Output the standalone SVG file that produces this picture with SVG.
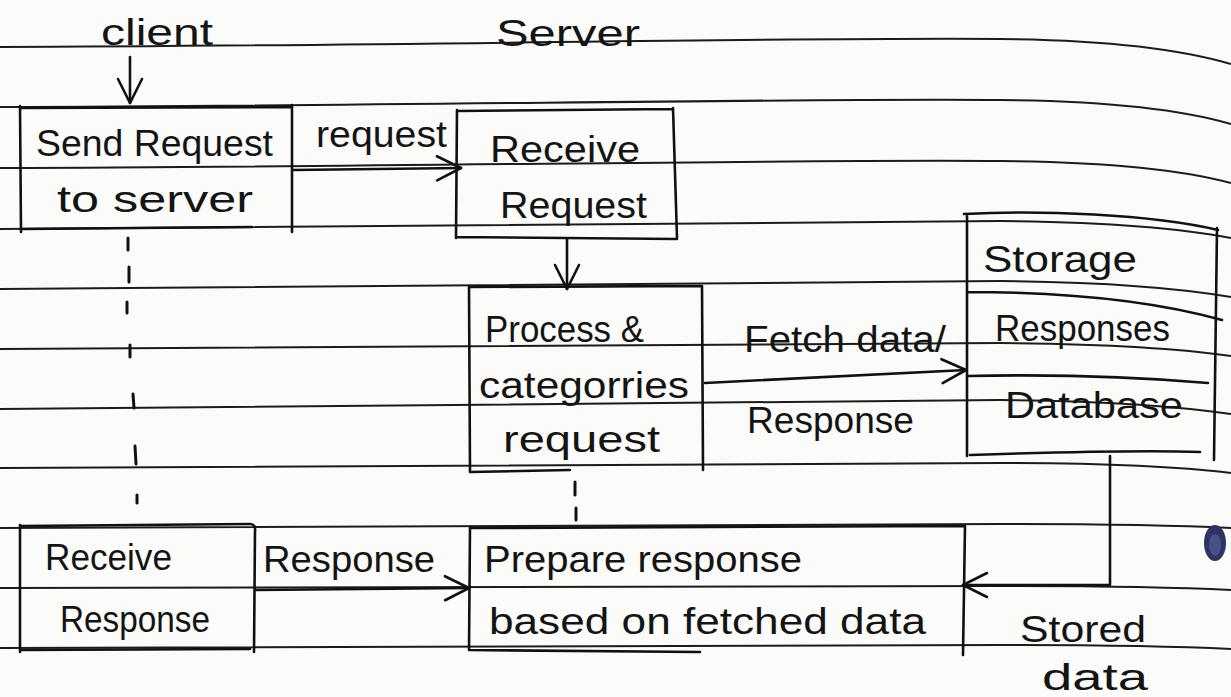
<svg xmlns="http://www.w3.org/2000/svg" width="1231" height="697" viewBox="0 0 1231 697">
  <style>
    .rule { fill: none; stroke: #1c1c1c; stroke-width: 2; }
    .ink { fill: none; stroke: #111; stroke-width: 2.6; stroke-linecap: round; stroke-linejoin: round; }
    .lbl { font-family: "Liberation Sans", "DejaVu Sans", sans-serif; font-size: 36px; fill: #141414; }
    .dash { stroke: #111; stroke-width: 3; stroke-linecap: round; }
  </style>
  <defs>
    <marker id="vhead" viewBox="-28 -16 32 32" refX="0" refY="0" markerWidth="32" markerHeight="32" markerUnits="userSpaceOnUse" orient="auto">
      <path d="M-24,-12 L0,0 L-24,12" fill="none" stroke="#111" stroke-width="2.6" stroke-linecap="round" stroke-linejoin="round"/>
    </marker>
  </defs>

  <!-- paper -->
  <rect x="0" y="0" width="1231" height="697" fill="#fbfbfa"/>

  <!-- ruled notebook lines -->
  <g id="ruling">
    <path class="rule" d="M0,47 C400,46 800,37 1000,39 C1120,40 1190,52 1231,64"/>
    <path class="rule" d="M0,107 C400,106 800,98 1000,100 C1120,101 1190,112 1231,124"/>
    <path class="rule" d="M0,168 C400,167 800,159 1000,161 C1120,162 1190,172 1231,183"/>
    <path class="rule" d="M0,229 C400,228 800,220 1000,221 C1120,222 1190,230 1231,238"/>
    <path class="rule" d="M0,289 C400,288 800,281 1000,281 C1120,282 1190,290 1231,297"/>
    <path class="rule" d="M0,349 C400,348 800,342 1000,343 C1120,344 1190,350 1231,356"/>
    <path class="rule" d="M0,409 C400,408 800,401 1000,400 C1120,401 1190,408 1231,414"/>
    <path class="rule" d="M0,468 C400,468 800,463 1000,463 C1120,463 1190,468 1231,473"/>
    <path class="rule" d="M0,528 C400,528 800,524 1000,524 C1120,524 1190,526 1231,528"/>
    <path class="rule" d="M0,588 C400,588 800,586 1000,586 C1120,586 1190,588 1231,590"/>
    <path class="rule" d="M0,648 C400,648 800,645 1000,645 C1120,645 1190,647 1231,649"/>
  </g>

  <!-- column headings -->
  <g id="heading-client">
    <text class="lbl" x="101" y="45" font-size="32" textLength="112" lengthAdjust="spacingAndGlyphs">client</text>
  </g>
  <g id="heading-server">
    <text class="lbl" x="496" y="46" font-size="32" textLength="144" lengthAdjust="spacingAndGlyphs">Server</text>
  </g>

  <!-- client: send request -->
  <g id="send-request">
    <path class="ink" d="M20,108 L292,107 M20,106 L21,232 M292,105 L292,232 M22,229 L252,227"/>
    <text class="lbl" x="36" y="156" textLength="237" lengthAdjust="spacingAndGlyphs">Send Request</text>
    <text class="lbl" x="57" y="212" textLength="196" lengthAdjust="spacingAndGlyphs">to server</text>
  </g>

  <!-- server: receive request -->
  <g id="receive-request">
    <path class="ink" d="M457,111 L673,109 M457,110 L456,238 M673,108 L677,238 M456,237 L677,239"/>
    <text class="lbl" x="490" y="162" textLength="150" lengthAdjust="spacingAndGlyphs">Receive</text>
    <text class="lbl" x="500" y="218" textLength="147" lengthAdjust="spacingAndGlyphs">Request</text>
  </g>

  <!-- server: process and categorise -->
  <g id="process-request">
    <path class="ink" d="M469,287 L702,286 M469,286 L470,472 M702,286 L703,470 M470,472 L570,470"/>
    <text class="lbl" x="485" y="342" textLength="159" lengthAdjust="spacingAndGlyphs">Process &amp;</text>
    <text class="lbl" x="479" y="398" textLength="210" lengthAdjust="spacingAndGlyphs">categorries</text>
    <text class="lbl" x="503" y="452" textLength="157" lengthAdjust="spacingAndGlyphs">request</text>
  </g>

  <!-- storage -->
  <g id="storage">
    <path class="ink" d="M964,214 C1040,210 1150,214 1218,230 M967,216 L967,456 M1217,228 L1214,460 M967,292 C1060,292 1150,300 1222,320 M968,376 C1060,374 1150,378 1208,383 M970,455 C1060,452 1150,450 1200,452"/>
    <text class="lbl" x="983" y="272" textLength="154" lengthAdjust="spacingAndGlyphs">Storage</text>
    <text class="lbl" x="995" y="341" textLength="175" lengthAdjust="spacingAndGlyphs">Responses</text>
    <text class="lbl" x="1005" y="418" textLength="178" lengthAdjust="spacingAndGlyphs">Database</text>
  </g>

  <!-- client: receive response -->
  <g id="receive-response">
    <path class="ink" d="M20,526 L250,524 Q256,524 255,532 M20,525 L20,652 M255,530 L254,652 M22,650 L250,649"/>
    <text class="lbl" x="45" y="570" textLength="127" lengthAdjust="spacingAndGlyphs">Receive</text>
    <text class="lbl" x="60" y="632" textLength="150" lengthAdjust="spacingAndGlyphs">Response</text>
  </g>

  <!-- server: prepare response -->
  <g id="prepare-response">
    <path class="ink" d="M470,528 L965,526 M470,527 L469,650 M965,526 L963,655 M470,650 L700,652"/>
    <text class="lbl" x="484" y="572" textLength="318" lengthAdjust="spacingAndGlyphs">Prepare response</text>
    <text class="lbl" x="489" y="634" textLength="437" lengthAdjust="spacingAndGlyphs">based on fetched data</text>
  </g>

  <!-- lifeline marks -->
  <g id="lifelines">
    <line class="dash" x1="128" y1="238" x2="128" y2="250"/>
    <line class="dash" x1="129" y1="267" x2="129" y2="282"/>
    <line class="dash" x1="127" y1="302" x2="127" y2="313"/>
    <line class="dash" x1="130" y1="345" x2="130" y2="357"/>
    <line class="dash" x1="133" y1="394" x2="134" y2="408"/>
    <line class="dash" x1="135" y1="446" x2="136" y2="464"/>
    <line class="dash" x1="137" y1="495" x2="137" y2="503"/>
    <line class="dash" x1="575" y1="482" x2="575" y2="495"/>
    <line class="dash" x1="576" y1="508" x2="576" y2="520"/>
  </g>

  <!-- connectors and their labels -->
  <g id="connectors">
    <line class="ink" x1="130" y1="57" x2="130" y2="103" marker-end="url(#vhead)"/>
    <line class="ink" x1="293" y1="170" x2="461" y2="168" marker-end="url(#vhead)"/>
    <text class="lbl" x="316" y="147" textLength="131" lengthAdjust="spacingAndGlyphs">request</text>

    <line class="ink" x1="567" y1="239" x2="567" y2="289" marker-end="url(#vhead)"/>

    <line class="ink" x1="705" y1="383" x2="966" y2="370" marker-end="url(#vhead)"/>
    <text class="lbl" x="744" y="352" textLength="202" lengthAdjust="spacingAndGlyphs">Fetch data/</text>
    <text class="lbl" x="747" y="433" textLength="167" lengthAdjust="spacingAndGlyphs">Response</text>

    <polyline class="ink" points="1110,456 1110,585 963,585" marker-end="url(#vhead)"/>
    <text class="lbl" x="1020" y="642" textLength="126" lengthAdjust="spacingAndGlyphs">Stored</text>
    <text class="lbl" x="1042" y="690" textLength="106" lengthAdjust="spacingAndGlyphs">data</text>

    <line class="ink" x1="256" y1="590" x2="469" y2="588" marker-end="url(#vhead)"/>
    <text class="lbl" x="263" y="572" textLength="172" lengthAdjust="spacingAndGlyphs">Response</text>
  </g>

  <!-- ink dot at the margin -->
  <ellipse cx="1215" cy="543" rx="11" ry="18" fill="#2f3262"/>
  <ellipse cx="1215" cy="545" rx="6" ry="11" fill="#4b5088"/>
</svg>
